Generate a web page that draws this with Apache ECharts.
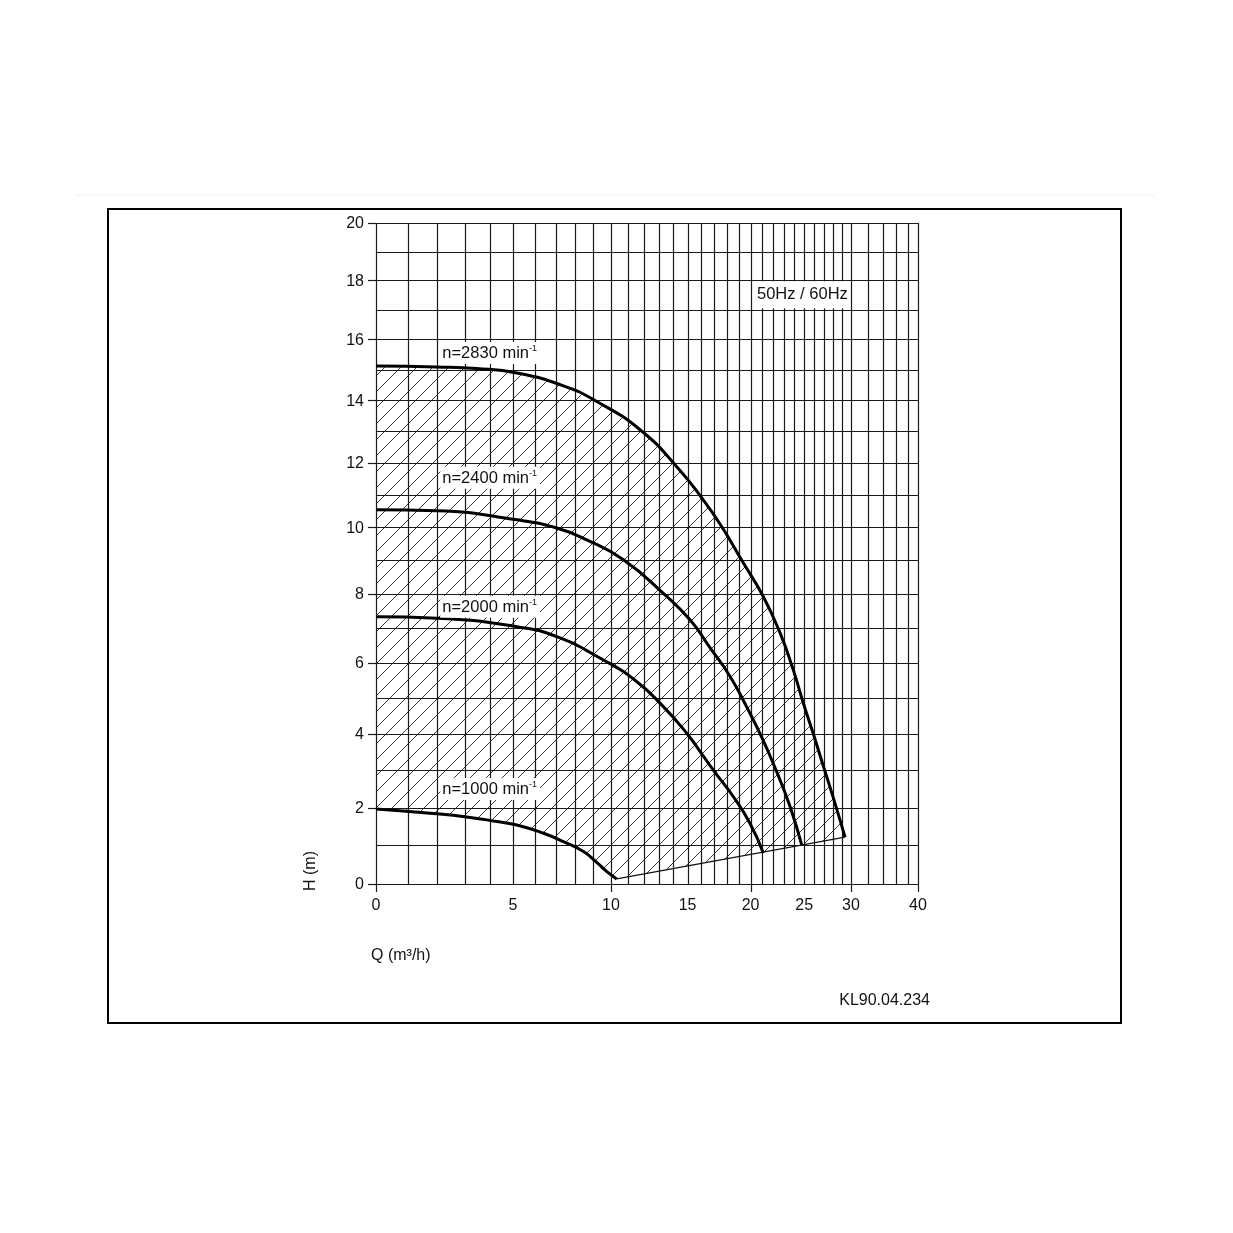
<!DOCTYPE html>
<html><head><meta charset="utf-8">
<script src="https://cdn.jsdelivr.net/npm/echarts@6/dist/echarts.min.js"></script>
<style>html,body{margin:0;padding:0;background:#fff}#c{width:1233px;height:1233px}</style>
</head><body><div id="c"></div>
<script>
// ---- axis values ----
const qTicks = [0, 5, 10, 15, 20, 25, 30, 40];
const qMajorTicks = [0, 10, 20, 30, 40];
const hTicks = [0, 2, 4, 6, 8, 10, 12, 14, 16, 18, 20];
const qGrid = [0,1,2,3,4,5,6,7,8,9,10,11,12,13,14,15,16,17,18,19,20,21,22,23,24,25,26,27,28,29,30,32,34,36,38,40];
const hGrid = [0,1,2,3,4,5,6,7,8,9,10,11,12,13,14,15,16,17,18,19,20];

// ---- pump curves (Q m3/h, H m) ----
const curve2830 = [[0,15.12],[1.97,15.09],[3.48,15.04],[5.17,14.89],[7.40,14.47],[9.18,13.96],[11.77,13.05],[14.23,11.88],[16.17,10.84],[17.61,10.02],[19.39,8.92],[21.13,7.92],[22.66,6.86],[23.93,5.79],[24.91,4.86],[25.93,4.00],[26.97,3.12],[28.04,2.26],[29.33,1.22]];
const curve2400 = [[0,10.54],[1.97,10.51],[5.17,10.23],[7.06,9.98],[8.63,9.62],[10.74,9.02],[13.30,8.02],[15.18,7.24],[16.69,6.43],[18.28,5.61],[19.67,4.75],[21.01,3.89],[22.35,2.96],[23.61,2.03],[24.76,1.01]];
const curve2000 = [[0,7.33],[1.97,7.29],[5.17,7.04],[7.06,6.75],[9.56,6.08],[11.57,5.46],[13.30,4.76],[14.94,4.02],[15.92,3.52],[16.94,3.01],[18.55,2.29],[19.96,1.58],[21.13,0.80]];
const curve1000 = [[0,1.96],[1.74,1.85],[3.22,1.74],[4.30,1.63],[5.17,1.54],[6.41,1.32],[7.40,1.10],[8.45,0.84],[9.18,0.56],[9.76,0.32],[10.34,0.13]];
const minLine = [[10.34,0.13],[29.33,1.22]];

// ---- annotations ----
const curveLabels = [
  {name:'n=2830 min', q:2.1, h:15.55},
  {name:'n=2400 min', q:2.1, h:11.53},
  {name:'n=2000 min', q:2.1, h:7.62},
  {name:'n=1000 min', q:2.1, h:2.50}
];
const freqLabel = {text:'50Hz / 60Hz', q:20.39, h:17.51};

// ---- chart scale (non-linear pump chart axes) ----
const QA = 331.8, QB = 0.5, QC = 10, QQ = -0.2095;
const FX30 = QA*Math.log(1+30/QC) + QB*30;
const DX30 = QA/(QC+30) + QB;
function fx(q){ if (q <= 30) return QA*Math.log(1+q/QC) + QB*q; const t = q-30; return FX30 + DX30*t + QQ*t*t; }
function fy(h){ return Math.log(1 + h/53.5); }
const T = pts => pts.map(p => [fx(p[0]), fy(p[1])]);

const FONT = '"Liberation Sans", Arial, sans-serif';
const TXT = '#111';

function hatch(poly, step){
  let kmin = Infinity, kmax = -Infinity;
  poly.forEach(p => { const k = p[0]+p[1]; if (k<kmin) kmin=k; if (k>kmax) kmax=k; });
  const segs = [];
  for (let k = Math.ceil(kmin/step)*step; k <= kmax; k += step){
    const xs = [];
    for (let i=0;i<poly.length;i++){
      const a = poly[i], b = poly[(i+1)%poly.length];
      const sa = a[0]+a[1]-k, sb = b[0]+b[1]-k;
      if ((sa<0) !== (sb<0)){ const t = sa/(sa-sb); xs.push(a[0] + t*(b[0]-a[0])); }
    }
    xs.sort((m,n)=>m-n);
    for (let j=0;j+1<xs.length;j+=2) segs.push([xs[j], k-xs[j], xs[j+1], k-xs[j+1]]);
  }
  return segs;
}

const chart = echarts.init(document.getElementById('c'), null, {renderer:'canvas'});
const C = (api, q, h) => api.coord([fx(q), fy(h)]);
const txtStyle = (text, align) => ({text:text, font:'16px '+FONT, fill:TXT, textAlign:align, textVerticalAlign:'middle', align:align, verticalAlign:'middle'});

const curveSeries = (name, pts) => ({type:'line', name:name, data:T(pts), symbol:'none', smooth:0.5, z:3, lineStyle:{color:'#000', width:3}});

const option = {
  animation: false,
  backgroundColor: '#fff',
  grid: {left: 376, top: 223, width: 542, height: 661, containLabel: false},
  xAxis: {type:'value', min:0, max:fx(40), show:false},
  yAxis: {type:'value', min:0, max:fy(20), show:false},
  graphic: [
    {type:'line', shape:{x1:75, y1:195, x2:1155, y2:195}, style:{stroke:'#f0f0f0', lineWidth:1}, z:0},
    {type:'rect', shape:{x:108, y:209, width:1013, height:814}, style:{fill:'none', stroke:'#000', lineWidth:2}, z:0},
    {type:'text', x:311, y:871, rotation:Math.PI/2, style:txtStyle('H (m)', 'center')},
    {type:'text', x:371, y:956, style:txtStyle('Q (m³/h)', 'left')},
    {type:'text', x:930, y:1001, style:txtStyle('KL90.04.234', 'right')}
  ],
  series: [
    { // hatched operating range
      type:'custom', clip:false, z:1, silent:true,
      data:[[0,0]],
      renderItem: function(params, api){
        const poly = [];
        curve2830.forEach(p => poly.push(C(api, p[0], p[1])));
        poly.push(C(api, minLine[0][0], minLine[0][1]));
        for (let i = curve1000.length-2; i >= 0; i--) poly.push(C(api, curve1000[i][0], curve1000[i][1]));
        const segs = hatch(poly, 16);
        return {type:'group', children: segs.map(s => ({type:'line', shape:{x1:s[0],y1:s[1],x2:s[2],y2:s[3]}, style:{stroke:'#222', lineWidth:0.9}}))};
      }
    },
    { // vertical grid lines
      type:'custom', clip:false, z:2, silent:true,
      data: qGrid.map(q => [fx(q), 0]),
      renderItem: function(params, api){
        const q = qGrid[params.dataIndex];
        const a = C(api, q, 0), b = C(api, q, 20);
        return {type:'line', shape:{x1:Math.round(a[0])+0.5, y1:a[1], x2:Math.round(b[0])+0.5, y2:b[1]}, style:{stroke:'#1a1a1a', lineWidth:1.2}};
      }
    },
    { // horizontal grid lines
      type:'custom', clip:false, z:2, silent:true,
      data: hGrid.map(h => [0, fy(h)]),
      renderItem: function(params, api){
        const h = hGrid[params.dataIndex];
        const a = C(api, 0, h), b = C(api, 40, h);
        return {type:'line', shape:{x1:a[0], y1:Math.round(a[1])+0.5, x2:b[0], y2:Math.round(b[1])+0.5}, style:{stroke:'#1a1a1a', lineWidth:1.2}};
      }
    },
    { // x tick labels and ticks
      type:'custom', clip:false, z:4, silent:true,
      data: qTicks.map(q => [fx(q), 0]),
      renderItem: function(params, api){
        const q = qTicks[params.dataIndex];
        const p = C(api, q, 0);
        const ch = [{type:'text', x:p[0], y:p[1]+22, style:txtStyle(String(q), 'center')}];
        if (qMajorTicks.indexOf(q) >= 0) ch.push({type:'line', shape:{x1:Math.round(p[0])+0.5, y1:p[1], x2:Math.round(p[0])+0.5, y2:p[1]+8}, style:{stroke:'#1a1a1a', lineWidth:1.2}});
        return {type:'group', children: ch};
      }
    },
    { // y tick labels and ticks
      type:'custom', clip:false, z:4, silent:true,
      data: hTicks.map(h => [0, fy(h)]),
      renderItem: function(params, api){
        const h = hTicks[params.dataIndex];
        const p = C(api, 0, h);
        return {type:'group', children:[
          {type:'text', x:p[0]-12, y:p[1]+1, style:txtStyle(String(h), 'right')},
          {type:'line', shape:{x1:p[0]-8, y1:Math.round(p[1])+0.5, x2:p[0], y2:Math.round(p[1])+0.5}, style:{stroke:'#1a1a1a', lineWidth:1.2}}
        ]};
      }
    },
    curveSeries('n=2830', curve2830),
    curveSeries('n=2400', curve2400),
    curveSeries('n=2000', curve2000),
    curveSeries('n=1000', curve1000),
    {type:'line', name:'limit', data:T(minLine), symbol:'none', z:3, lineStyle:{color:'#111', width:1.2}},
    { // curve labels
      type:'scatter', z:6, silent:true, symbolSize:0, itemStyle:{opacity:1},
      data: curveLabels.map(l => ({value:[fx(l.q), fy(l.h)], name:l.name})),
      label:{show:true, position:'right', distance:0, backgroundColor:'#fff', padding:[2,3,1,2], color:TXT, opacity:1,
        formatter: p => '{a|' + p.name + '}{s|-1}',
        rich:{a:{fontSize:16.5, fontFamily:FONT, color:TXT, lineHeight:19}, s:{fontSize:9, fontFamily:FONT, color:TXT, verticalAlign:'top', lineHeight:19}}}
    },
    {
      type:'scatter', z:6, silent:true, symbolSize:0, itemStyle:{opacity:1},
      data:[{value:[fx(freqLabel.q), fy(freqLabel.h)], name:freqLabel.text}],
      label:{show:true, position:'right', distance:0, backgroundColor:'#fff', padding:[5,2,5,2], opacity:1, formatter:p => p.name, fontSize:16.5, fontFamily:FONT, color:TXT}
    }
  ]
};
chart.setOption(option);
</script>
</body></html>
